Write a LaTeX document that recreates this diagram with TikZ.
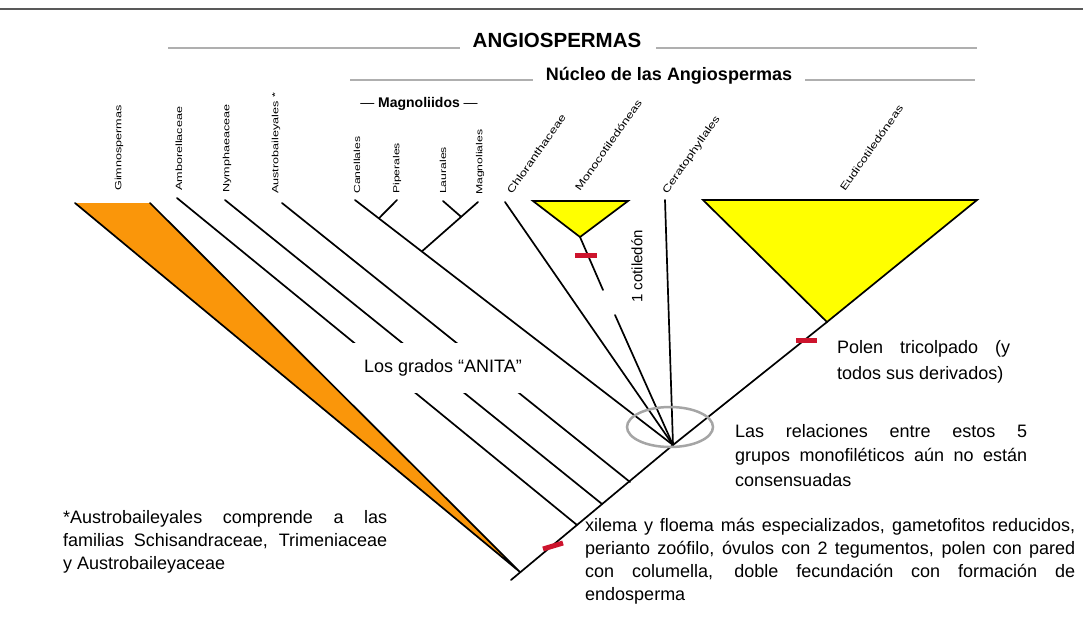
\documentclass[tikz,border=0pt]{standalone}
\usepackage{fontspec}
\setmainfont{Liberation Sans}
\usetikzlibrary{calc,shapes.geometric}
\definecolor{gymor}{RGB}{250,150,10}
\definecolor{cladey}{RGB}{255,255,0}
\definecolor{tickred}{RGB}{205,20,45}
\definecolor{ringgray}{RGB}{165,165,165}
\definecolor{hdrgray}{RGB}{175,175,175}
\begin{document}
\begin{tikzpicture}[x=1pt,y=-1pt,
  branch/.style={line width=1.7pt, line cap=round},
  tax/.style={font=\fontsize{12.6}{14}\selectfont, rotate=90, yscale=0.72, anchor=west, inner sep=0pt},
  taxs/.style={tax, font=\fontsize{12.2}{14}\selectfont},
  taxd/.style={font=\fontsize{13.4}{15}\selectfont, rotate=55, yscale=0.75, anchor=west, inner sep=0pt},
  hline/.style={hdrgray, line width=1.6pt},
  hdr/.style={font=\fontsize{18}{20}\selectfont\bfseries, inner sep=0pt},
  body/.style={align=justify, inner sep=0pt, anchor=north west},
  tick/.style={tickred, line width=5pt},
]
\useasboundingbox (0,0) rectangle (1083,634);
\fill[white] (0,0) rectangle (1083,634);

% header
\coordinate (topL) at (0,9); \coordinate (topR) at (1083,9);
\draw[line width=2.2pt, black!65] (topL) -- (topR);
\node[hdr, font=\fontsize{20.5}{22}\selectfont\bfseries] (angio) at (557,40) {ANGIOSPERMAS};
\coordinate (a1) at (168,48); \coordinate (a2) at (460,48);
\coordinate (a3) at (656,48); \coordinate (a4) at (977,48);
\draw[hline] (a1) -- (a2); \draw[hline] (a3) -- (a4);
\node[hdr] (nucleo) at (669,76) {Núcleo de las Angiospermas};
\coordinate (n1) at (350,80); \coordinate (n2) at (533,80);
\coordinate (n3) at (805,80); \coordinate (n4) at (975,80);
\draw[hline] (n1) -- (n2); \draw[hline] (n3) -- (n4);
\node[font=\fontsize{14}{16}\selectfont, inner sep=0pt] (magn) at (419,104) {— \textbf{Magnoliidos} —};

% tree coordinates
\coordinate (root) at (511,580);
\coordinate (gymA) at (520,572);
\coordinate (ambJ) at (577,525);
\coordinate (nymJ) at (602,504);
\coordinate (ausJ) at (630,482);
\coordinate (poly) at (673,445);
\coordinate (eudA) at (827,322);
\coordinate (gymTL) at (75,203); \coordinate (gymTR) at (150,203);
\coordinate (ambT) at (177,198);
\coordinate (nymT) at (225,200);
\coordinate (ausT) at (282,203);
\coordinate (canT) at (355,200);
\coordinate (pipT) at (397,200);
\coordinate (lauT) at (443,201);
\coordinate (magT) at (478,202);
\coordinate (magN) at ($(canT)!0.21!(poly)$);
\coordinate (cpN) at ($(canT)!0.075!(poly)$);
\coordinate (lmN) at ($(magT)!0.30!(magN)$);
\coordinate (chlT) at (505,202);
\coordinate (monTL) at (533,201); \coordinate (monTR) at (628,201);
\coordinate (monA) at (580,237);
\coordinate (monG1) at (603,290); \coordinate (monG2) at (615,315);
\coordinate (cerT) at (665,200);
\coordinate (eudTL) at (703,200); \coordinate (eudTR) at (977,200);

% gymnosperm triangle
\fill[gymor] (gymTL) -- (gymTR) -- (gymA) -- cycle;
\draw[branch] (gymTL) -- (gymA) -- (gymTR);

% spine
\draw[branch] (root) -- (poly) -- (eudA);
% ANITA grade
\draw[branch] (ambT) -- (ambJ);
\draw[branch] (nymT) -- (nymJ);
\draw[branch] (ausT) -- (ausJ);
% magnoliids
\draw[branch] (canT) -- (poly);
\draw[branch] (pipT) -- (cpN);
\draw[branch] (magT) -- (magN);
\draw[branch] (lauT) -- (lmN);
% chloranthaceae, monocots, ceratophyllales
\draw[branch] (chlT) -- (poly);
\draw[branch] (monA) -- (monG1);
\draw[branch] (monG2) -- (poly);
\draw[branch] (cerT) -- (poly);
\filldraw[branch, fill=cladey, line join=miter] (monTL) -- (monTR) -- (monA) -- cycle;
\filldraw[branch, fill=cladey, line join=miter] (eudTL) -- (eudTR) -- (eudA) -- cycle;

% white band behind the ANITA label
\node[fill=white, minimum width=187pt, minimum height=50pt, inner sep=0pt,
      font=\fontsize{18}{20}\selectfont] (anita) at (443,368) {Los grados “ANITA”};

% red ticks
\coordinate (tk1a) at (543,549); \coordinate (tk1b) at (563,543);
\draw[tick] (tk1a) -- (tk1b);
\coordinate (tk2a) at (796,340); \coordinate (tk2b) at (817,340);
\draw[tick] (tk2a) -- (tk2b);
\coordinate (tk3a) at (575,255); \coordinate (tk3b) at (597,255);
\draw[tick] (tk3a) -- (tk3b);

% ring
\node[draw=ringgray, line width=2.5pt, ellipse, minimum width=86pt, minimum height=40pt, inner sep=0pt] (ring) at (670,427) {};

% taxon labels
\node[tax] (lGym) at (119,191) {Gimnospermas};
\node[tax] (lAmb) at (179,191) {Amborellaceae};
\node[tax] (lNym) at (227,193) {Nymphaeaceae};
\node[tax] (lAus) at (276,194) {Austrobaileyales *};
\node[taxs] (lCan) at (357,194) {Canellales};
\node[taxs] (lPip) at (397,194) {Piperales};
\node[taxs] (lLau) at (443,194) {Laurales};
\node[taxs] (lMag) at (480,195) {Magnoliales};
\node[taxd] (lChl) at (509,193) {Chloranthaceae};
\node[taxd] (lMon) at (577,190) {Monocotiledóneas};
\node[taxd] (lCer) at (665,193) {Ceratophyllales};
\node[taxd] (lEud) at (842,190) {Eudicotiledóneas};

\node[font=\fontsize{15}{17}\selectfont, rotate=90, anchor=west, inner sep=0pt] (cot) at (637,303) {1 cotiledón};

% explanatory texts
\node[body, text width=173pt, font=\fontsize{18}{26}\selectfont] (polen) at (837,335)
  {\strut Polen tricolpado (y\linebreak todos sus derivados)};
\node[body, text width=292pt, font=\fontsize{18}{24.5}\selectfont] (rel) at (735,420)
  {\strut Las relaciones entre estos 5\linebreak grupos monofiléticos aún no están\linebreak consensuadas};
\node[body, text width=324pt, font=\fontsize{18}{23}\selectfont] (austro) at (63,507)
  {\strut *Austrobaileyales comprende a las\linebreak familias Schisandraceae, Trimeniaceae\linebreak y Austrobaileyaceae};
\node[body, text width=490pt, font=\fontsize{18}{23}\selectfont] (xil) at (585,515)
  {\strut xilema y floema más especializados, gametofitos reducidos,\linebreak perianto zoófilo, óvulos con 2 tegumentos, polen con pared\linebreak con columella, doble fecundación con formación de\linebreak endosperma};
\end{tikzpicture}
\end{document}
